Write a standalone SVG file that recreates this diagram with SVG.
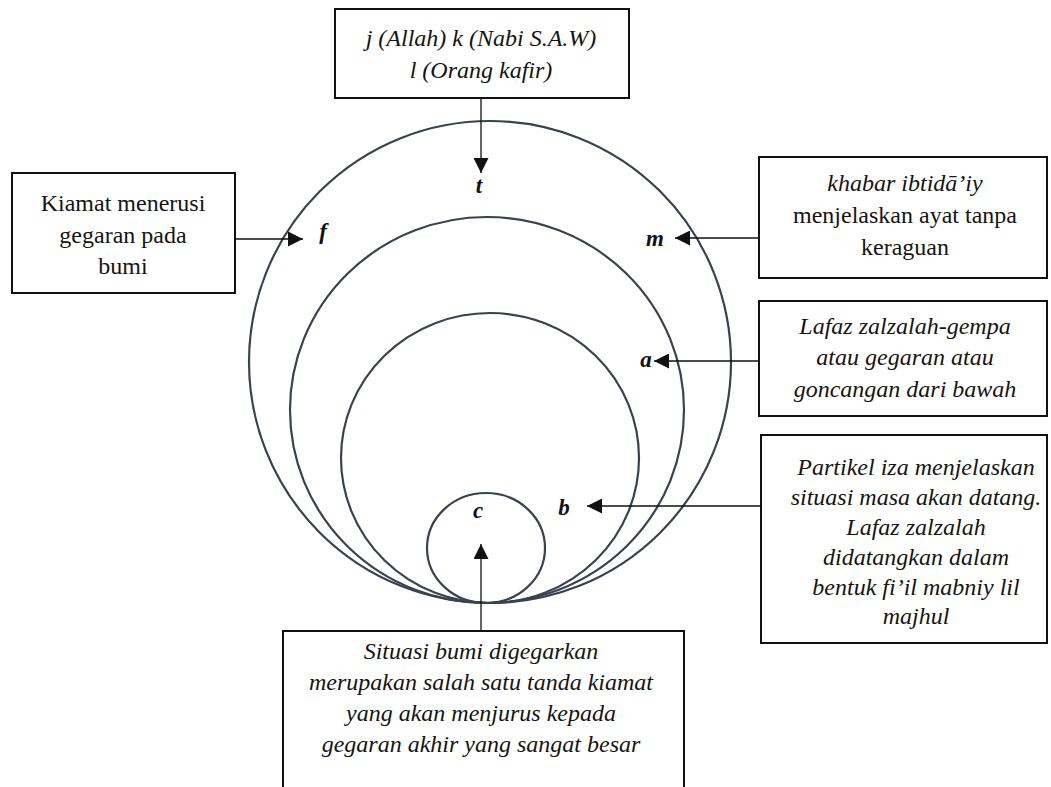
<svg xmlns="http://www.w3.org/2000/svg" width="1051" height="787" viewBox="0 0 1051 787">
  <style>
    .box { fill: #ffffff; stroke: #111111; stroke-width: 2; }
    .ring { fill: none; stroke: #3a4250; stroke-width: 2.2; }
    .txt { font-family: 'Liberation Serif', 'Times New Roman', Tinos, 'DejaVu Serif', serif; font-size: 24px; fill: #141414; text-anchor: middle; }
    .it { font-style: italic; }
    .lbl { font-family: 'Liberation Serif', 'Times New Roman', Tinos, 'DejaVu Serif', serif; font-size: 23px; font-style: italic; font-weight: bold; fill: #111111; text-anchor: middle; }
    .conn { stroke: #111111; stroke-width: 1.3; fill: none; marker-end: url(#arrow); }
  </style>
  <defs>
    <marker id="arrow" markerUnits="userSpaceOnUse" markerWidth="16" markerHeight="15" refX="15" refY="7.5" orient="auto">
      <path d="M0,0 L15,7.5 L0,15 z" fill="#111111"/>
    </marker>
  </defs>
  <rect width="1051" height="787" fill="#ffffff"/>

  <g id="rings">
    <ellipse id="ring-outer" class="ring" cx="490" cy="362" rx="241" ry="241"/>
    <ellipse id="ring-second" class="ring" cx="487" cy="410" rx="197" ry="193"/>
    <ellipse id="ring-third" class="ring" cx="490" cy="458" rx="149" ry="145"/>
    <ellipse id="ring-small" class="ring" cx="486" cy="548" rx="59" ry="55"/>
  </g>

  <g id="labels">
    <text class="lbl" x="479" y="193" font-family="Liberation Serif, DejaVu Serif, serif">t</text>
    <text class="lbl" x="323" y="239" font-family="Liberation Serif, DejaVu Serif, serif">f</text>
    <text class="lbl" x="655" y="246" font-family="Liberation Serif, DejaVu Serif, serif">m</text>
    <text class="lbl" x="646" y="367" font-family="Liberation Serif, DejaVu Serif, serif">a</text>
    <text class="lbl" x="564" y="515" font-family="Liberation Serif, DejaVu Serif, serif">b</text>
    <text class="lbl" x="478" y="518" font-family="Liberation Serif, DejaVu Serif, serif">c</text>
  </g>

  <g id="node-top" font-family="Liberation Serif, DejaVu Serif, serif">
    <rect class="box" x="335" y="9" width="294" height="89"/>
    <text class="txt it" x="481" y="46">j (Allah) k (Nabi S.A.W)</text>
    <text class="txt it" x="481" y="78">l (Orang kafir)</text>
  </g>

  <g id="node-left" font-family="Liberation Serif, DejaVu Serif, serif">
    <rect class="box" x="12" y="173" width="223" height="120"/>
    <text class="txt" x="123" y="211">Kiamat menerusi</text>
    <text class="txt" x="123" y="243">gegaran pada</text>
    <text class="txt" x="123" y="274">bumi</text>
  </g>

  <g id="node-m" font-family="Liberation Serif, DejaVu Serif, serif">
    <rect class="box" x="759" y="157" width="288" height="121"/>
    <text class="txt" x="905" y="191"><tspan class="it">khabar ibtidā’iy</tspan></text>
    <text class="txt" x="905" y="223">menjelaskan ayat tanpa</text>
    <text class="txt" x="905" y="255">keraguan</text>
  </g>

  <g id="node-a" font-family="Liberation Serif, DejaVu Serif, serif">
    <rect class="box" x="759" y="301" width="288" height="115"/>
    <text class="txt it" x="905" y="334">Lafaz zalzalah-gempa</text>
    <text class="txt it" x="905" y="365">atau gegaran atau</text>
    <text class="txt it" x="905" y="397">goncangan dari bawah</text>
  </g>

  <g id="node-b" font-family="Liberation Serif, DejaVu Serif, serif">
    <rect class="box" x="761" y="435" width="286" height="208"/>
    <text class="txt it" x="916" y="475">Partikel iza menjelaskan</text>
    <text class="txt it" x="916" y="505">situasi masa akan datang.</text>
    <text class="txt it" x="916" y="535">Lafaz zalzalah</text>
    <text class="txt it" x="916" y="565">didatangkan dalam</text>
    <text class="txt it" x="916" y="595">bentuk fi’il mabniy lil</text>
    <text class="txt it" x="916" y="624">majhul</text>
  </g>

  <g id="node-bottom" font-family="Liberation Serif, DejaVu Serif, serif">
    <rect class="box" x="283" y="631" width="401" height="170"/>
    <text class="txt it" x="481" y="659">Situasi bumi digegarkan</text>
    <text class="txt it" x="481" y="690">merupakan salah satu tanda kiamat</text>
    <text class="txt it" x="481" y="721">yang akan menjurus kepada</text>
    <text class="txt it" x="481" y="752">gegaran akhir yang sangat besar</text>
  </g>

  <g id="connectors">
    <line class="conn" x1="481" y1="98" x2="481" y2="173"/>
    <line class="conn" x1="235" y1="239" x2="303" y2="239"/>
    <line class="conn" x1="759" y1="238" x2="675" y2="238"/>
    <line class="conn" x1="759" y1="361" x2="654" y2="361"/>
    <line class="conn" x1="761" y1="506" x2="587" y2="506"/>
    <line class="conn" x1="481" y1="631" x2="481" y2="544"/>
  </g>
</svg>
